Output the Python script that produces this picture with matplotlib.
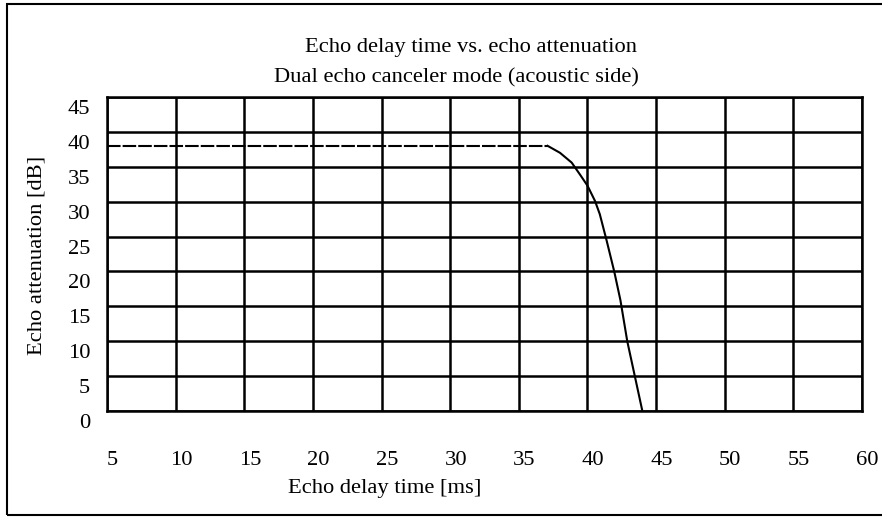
import matplotlib
matplotlib.use('Agg')
import matplotlib.pyplot as plt
import matplotlib.transforms as mtransforms
from matplotlib.patches import Rectangle

# data
delay_ms = [5, 37.1, 38.0, 38.85, 39.45, 40.0, 40.55, 40.9, 41.4, 41.95, 42.4, 42.9, 43.45, 44.0]
attenuation_db = [38, 38, 37.0, 35.6, 33.9, 32.3, 30.1, 28.2, 24.4, 20.0, 15.9, 10.0, 5.0, 0]
x_ticks = [5, 10, 15, 20, 25, 30, 35, 40, 45, 50, 55, 60]
y_ticks = [0, 5, 10, 15, 20, 25, 30, 35, 40, 45]

W, H = 882, 518
FS = 16.2
plt.rcParams['font.family'] = ['Liberation Serif', 'DejaVu Serif']
plt.rcParams['font.size'] = FS

fig = plt.figure(figsize=(W / 100, H / 100), dpi=100)
ax = fig.add_axes([107 / W, 1 - 411 / H, (862 - 107) / W, (411 - 97) / H])

# flat part dashed, roll-off solid
n_flat = 2
ax.plot(delay_ms[:n_flat], attenuation_db[:n_flat], color='black', lw=1.5,
        linestyle=(0, (6.5, 1.0)), zorder=3)
ax.plot(delay_ms[n_flat - 1:], attenuation_db[n_flat - 1:], color='black', lw=1.5,
        zorder=3, solid_joinstyle='round')

ax.set_xlim(5, 60)
ax.set_ylim(0, 45)
ax.set_xticks(x_ticks, [str(v) for v in x_ticks])
ax.set_yticks(y_ticks, [str(v) for v in y_ticks])
ax.grid(True, color='black', lw=1.8)
ax.set_axisbelow(True)
for sp in ax.spines.values():
    sp.set_linewidth(1.8)
ax.tick_params(axis='both', length=0, labelsize=FS)
ax.tick_params(axis='x', pad=28.5)
ax.tick_params(axis='y', pad=12.2)

# labels sit a bit off their grid lines in the original
dx = mtransforms.ScaledTranslation(5.5 / 100, 0, fig.dpi_scale_trans)
dy = mtransforms.ScaledTranslation(0, -10 / 100, fig.dpi_scale_trans)
for lbl in ax.get_xticklabels():
    lbl.set_transform(lbl.get_transform() + dx)
for lbl in ax.get_yticklabels():
    lbl.set_transform(lbl.get_transform() + dy)

# titles and axis labels placed in figure pixels
fig.text(471 / W, 1 - 52 / H, 'Echo delay time vs. echo attenuation',
         ha='center', va='baseline')
fig.text(456 / W, 1 - 82 / H, 'Dual echo canceler mode (acoustic side)',
         ha='center', va='baseline')
fig.text(385 / W, 1 - 488 / H, 'Echo delay time [ms]', ha='center', va='center')
fig.text(37 / W, 1 - 255 / H, 'Echo attenuation [dB]', ha='center', va='center',
         rotation=90)

# outer frame (right side runs off the canvas)
fig.patches.append(Rectangle((7 / W, 1 - 515 / H), 900 / W, (515 - 4) / H,
                             transform=fig.transFigure, fill=False,
                             edgecolor='black', lw=1.5))

fig.savefig('out.png', dpi=100)
